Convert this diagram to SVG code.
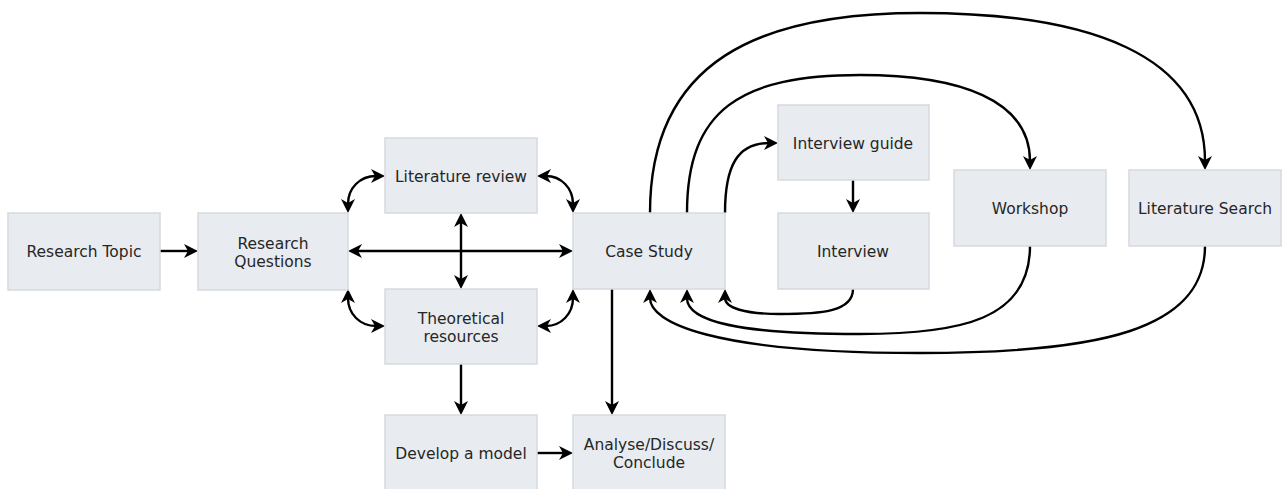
<svg xmlns="http://www.w3.org/2000/svg" width="1284" height="489" viewBox="0 0 1284 489">
  <style>
    .box { fill: #e8ecf1; stroke: #d6dade; stroke-width: 1.5; }
    .lbl { font-family: "DejaVu Sans", Verdana, sans-serif; font-size: 15.5px; fill: #262626; text-anchor: middle; }
    .edge { fill: none; stroke: #000000; stroke-width: 2.4; }
    .one { marker-end: url(#head); }
    .two { marker-start: url(#head); marker-end: url(#head); }
  </style>
  <defs>
    <!-- notched arrowhead; the line ends inside the notch, the tip sits 9px further on -->
    <marker id="head" viewBox="0 0 15 14" markerUnits="userSpaceOnUse" markerWidth="15" markerHeight="14" refX="5" refY="7" orient="auto-start-reverse">
      <path d="M0,0 L14,7 L0,14 L4,7 Z" fill="#000000"/>
    </marker>
  </defs>

  <rect width="1284" height="489" fill="#ffffff"/>

  <g id="connectors">
    <path class="edge one" d="M160,251 L189,251"/>
    <path class="edge two" d="M357,251 L564,251"/>
    <path class="edge two" d="M461,222 L461,280"/>
    <path class="edge one" d="M461,364 L461,406"/>
    <path class="edge one" d="M537,453 L564,453"/>
    <path class="edge one" d="M612,289 L612,406"/>
    <path class="edge one" d="M853,180 L853,204"/>
    <path class="edge two" d="M348,204 C348,188 360,176 376,176"/>
    <path class="edge two" d="M348,298 C348,314 360,326 376,326"/>
    <path class="edge two" d="M546,176 C561,176 573,188 573,204"/>
    <path class="edge two" d="M546,326 C561,326 573,314 573,298"/>
    <path class="edge one" d="M725,213 C725,165 738,143 769,143"/>
    <path class="edge one" d="M687,213 C687,110 740,75 860,75 C960,75 1030,100 1030,161"/>
    <path class="edge one" d="M650,213 C650,60 760,13 920,13 C1090,13 1205,55 1205,161"/>
    <path class="edge one" d="M853,289 C853,312 820,314 780,314 C745,314 725,308 725,298"/>
    <path class="edge one" d="M1030,246 C1030,320 960,334 860,334 C740,334 687,322 687,298"/>
    <path class="edge one" d="M1205,246 C1205,330 1100,353 920,353 C710,353 650,322 650,298"/>
  </g>

  <g id="research-topic">
    <rect class="box" x="8" y="213" width="152" height="77"/>
    <text class="lbl" x="84" y="257">Research Topic</text>
  </g>
  <g id="research-questions">
    <rect class="box" x="198" y="213" width="150" height="77"/>
    <text class="lbl" x="273" y="249">Research</text>
    <text class="lbl" x="273" y="267">Questions</text>
  </g>
  <g id="literature-review">
    <rect class="box" x="385" y="138" width="152" height="75"/>
    <text class="lbl" x="461" y="182">Literature review</text>
  </g>
  <g id="theoretical-resources">
    <rect class="box" x="385" y="289" width="152" height="75"/>
    <text class="lbl" x="461" y="324">Theoretical</text>
    <text class="lbl" x="461" y="342">resources</text>
  </g>
  <g id="case-study">
    <rect class="box" x="573" y="213" width="152" height="76"/>
    <text class="lbl" x="649" y="257">Case Study</text>
  </g>
  <g id="interview-guide">
    <rect class="box" x="778" y="105" width="151" height="75"/>
    <text class="lbl" x="853" y="149">Interview guide</text>
  </g>
  <g id="interview">
    <rect class="box" x="778" y="213" width="151" height="76"/>
    <text class="lbl" x="853" y="257">Interview</text>
  </g>
  <g id="workshop">
    <rect class="box" x="954" y="170" width="152" height="76"/>
    <text class="lbl" x="1030" y="214">Workshop</text>
  </g>
  <g id="literature-search">
    <rect class="box" x="1129" y="170" width="152" height="76"/>
    <text class="lbl" x="1205" y="214">Literature Search</text>
  </g>
  <g id="develop-model">
    <rect class="box" x="385" y="415" width="152" height="76"/>
    <text class="lbl" x="461" y="459">Develop a model</text>
  </g>
  <g id="analyse">
    <rect class="box" x="573" y="415" width="152" height="76"/>
    <text class="lbl" x="649" y="450">Analyse/Discuss/</text>
    <text class="lbl" x="649" y="468">Conclude</text>
  </g>
</svg>
